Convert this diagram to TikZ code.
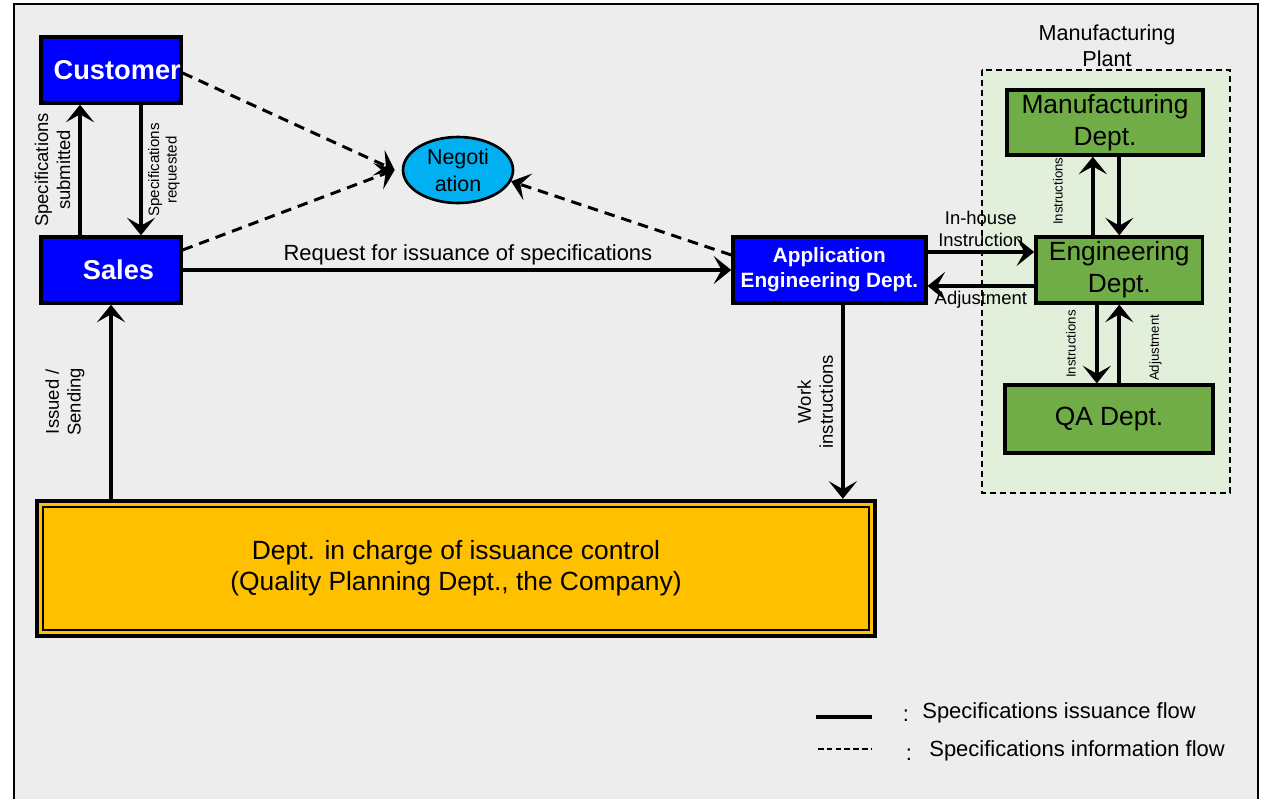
\documentclass[tikz,border=0pt]{standalone}
\usepackage{fontspec}
\setmainfont{Liberation Sans}
\usetikzlibrary{positioning}
\usetikzlibrary{arrows.meta}
\usetikzlibrary{shapes.geometric}
\definecolor{bgray}{RGB}{237,237,237}
\definecolor{boxblue}{RGB}{0,0,255}
\definecolor{negocyan}{RGB}{0,176,240}
\definecolor{deptgreen}{RGB}{112,173,71}
\definecolor{plantgreen}{RGB}{226,239,218}
\definecolor{ctrlorange}{RGB}{255,192,0}
\tikzset{
    node distance=4cm,
    every node/.append style={align=center},
    bluebox/.style={
        draw, line width=1.9pt,
        fill=boxblue, text=white,
        font=\bfseries\fontsize{15.5}{18}\selectfont,
        minimum width=2.8cm, minimum height=1.32cm, inner sep=0pt
    },
    greenbox/.style={
        draw, line width=1.9pt,
        fill=deptgreen,
        font=\fontsize{15}{18}\selectfont,
        minimum height=1.32cm, inner sep=0pt
    },
    ctrlbox/.style={
        draw, line width=2.5pt,
        fill=ctrlorange,
        font=\fontsize{15}{17.5}\selectfont,
        minimum width=16.76cm, minimum height=2.7cm
    },
    flow/.style={
        draw,
        -{Stealth[length=10pt,width=16pt,inset=4.5pt]},
        line width=2.1pt
    },
    infoflow/.style={flow, dash pattern=on 6pt off 4pt, line width=1.7pt},
    lbl/.style={font=\fontsize{10.5}{12.5}\selectfont, inner sep=3pt},
    lbls/.style={font=\fontsize{7.5}{9}\selectfont, inner sep=2pt}
}
\begin{document}
\begin{tikzpicture}[x=0.02cm,y=-0.02cm]
    \useasboundingbox (0,0) rectangle (1266,799);
    \fill[bgray] (14,4) rectangle (1258,799);
    \draw[line width=0.6pt] (14,799) -- (14,4) -- (1258,4) -- (1258,799);

    % manufacturing plant frame
    \draw[fill=plantgreen, line width=0.6pt, dash pattern=on 3.4pt off 2.3pt]
        (982,70) rectangle (1230,493);
    \node[font=\fontsize{12.3}{14.5}\selectfont] (plant) at (1107,46) {Manufacturing\\Plant};

    \node[bluebox] (cust) at (111,70) {\hspace*{0.25cm}Customer};
    \node[bluebox, below of=cust] (sales) {\hspace*{0.3cm}Sales};
    \node[ellipse, draw, line width=1.5pt, fill=negocyan, minimum width=2.2cm, minimum height=1.32cm,
          inner sep=0pt, font=\fontsize{12.2}{15.5}\selectfont] (nego) at (458,170) {Negoti\\ation};
    \node[bluebox, right of=sales, node distance=14.37cm, minimum width=3.86cm,
          font=\bfseries\fontsize{11.8}{14}\selectfont] (appeng) {Application\\Engineering Dept.};
    \node[ctrlbox] (ctrl) at (456,568.5) {Dept. in charge of issuance control\\(Quality Planning Dept., the Company)};
    \draw[line width=1.2pt] ([shift={(4.5pt,-4.5pt)}]ctrl.north west) rectangle ([shift={(-4.5pt,4.5pt)}]ctrl.south east);

    \node[greenbox, right of=appeng, node distance=5.8cm, minimum width=3.34cm] (eng) {Engineering\\Dept.};
    \node[greenbox, minimum width=3.92cm, minimum height=1.3cm] (mfg) at (1105,122.5) {Manufacturing\\Dept.};
    \node[greenbox, minimum width=4.16cm, minimum height=1.36cm] (qa) at (1109,419) {QA Dept.};

    % customer / sales
    \draw[flow] ([xshift=-0.62cm]sales.north) -- node[rotate=90, anchor=south, lbl, inner sep=4.5pt] {Specifications\\submitted} ([xshift=-0.62cm]cust.south);
    \draw[flow] ([xshift=0.6cm]cust.south) -- node[rotate=90, anchor=north, font=\fontsize{8.6}{10}\selectfont, inner sep=3pt] {Specifications\\requested} ([xshift=0.6cm]sales.north);
    \draw[flow] (sales.south |- ctrl.north) -- node[rotate=90, anchor=south, lbl, inner sep=14pt] {Issued /\\Sending} (sales.south);

    % negotiation
    \draw[infoflow] ([yshift=-0.06cm]cust.east) -- ([xshift=-4pt]nego.west);
    \draw[infoflow] ([yshift=0.4cm]sales.east) -- ([xshift=-4pt]nego.west);
    \draw[infoflow] ([yshift=0.3cm]appeng.west) -- (nego.-12);

    \draw[flow] (sales.east) -- node[pos=.52, above, font=\fontsize{12.5}{15}\selectfont, inner sep=2pt] {Request for issuance of specifications} (appeng.west);
    \draw[flow] ([xshift=0.27cm]appeng.south) -- node[rotate=90, anchor=south, lbl, inner sep=4.5pt] {Work\\instructions} ([xshift=0.27cm]appeng.south |- ctrl.north);

    % inside the plant
    \draw[flow] ([yshift=0.36cm]appeng.east) -- node[above, lbl, inner sep=2pt] {In-house\\Instruction} ([yshift=0.36cm]appeng.east -| eng.west);
    \draw[flow] ([yshift=-0.32cm]eng.west) -- node[below, lbl, inner sep=2pt] {Adjustment} ([yshift=-0.32cm]eng.west -| appeng.east);
    \draw[flow] ([xshift=-0.53cm]eng.north) -- node[pos=.56, rotate=90, anchor=south, lbls, inner sep=16pt] {Instructions} ([xshift=-0.53cm]eng.north |- mfg.south);
    \draw[flow] (eng.north |- mfg.south) -- (eng.north);
    \draw[flow] ([xshift=-0.45cm]eng.south) -- node[rotate=90, anchor=south, lbls, inner sep=11pt] {Instructions} ([xshift=-0.45cm]eng.south |- qa.north);
    \draw[flow] (eng.south |- qa.north) -- node[pos=.45, rotate=90, anchor=north, lbls, inner sep=16pt] {Adjustment} (eng.south);

    % legend
    \coordinate (solidA) at (816,717);
    \coordinate (solidB) at (872,717);
    \coordinate (dashA) at (818,749);
    \coordinate (dashB) at (872,749);
    \draw[line width=2.2pt] (solidA) -- (solidB);
    \draw[line width=0.6pt, dash pattern=on 3.2pt off 1.8pt] (dashA) -- (dashB);
    \node[font=\fontsize{12.5}{15}\selectfont] (colA) at (906,716) {:};
    \node[font=\fontsize{12.5}{15}\selectfont] (colB) at (909,755) {:};
    \node[anchor=west, inner sep=0pt, font=\fontsize{12.5}{15}\selectfont] (keyA) at (922,713) {Specifications issuance flow};
    \node[anchor=west, inner sep=0pt, font=\fontsize{12.5}{15}\selectfont] (keyB) at (929,751) {Specifications information flow};
\end{tikzpicture}
\end{document}
